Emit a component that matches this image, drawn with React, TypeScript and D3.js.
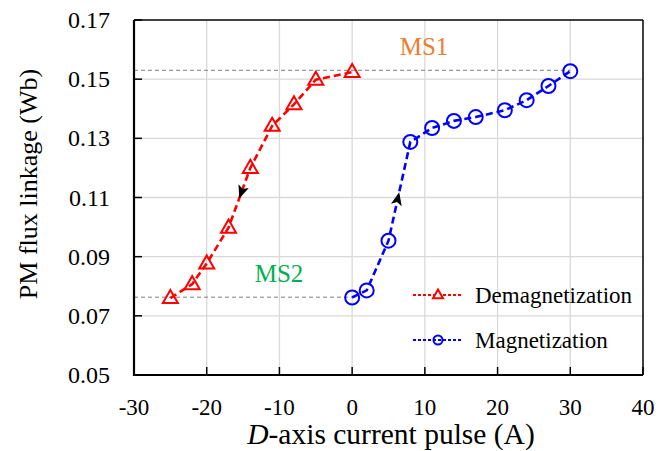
import React from "react";
import * as d3 from "d3";

const demagX = [-25, -22, -20, -17, -14, -11, -8, -5, 0];
const demagY = [0.076, 0.0807, 0.0877, 0.0998, 0.120, 0.1342, 0.1415, 0.1498, 0.1524];
const magX = [0, 2, 5, 8, 11, 14, 17, 21, 24, 27, 30];
const magY = [0.0762, 0.0786, 0.0954, 0.1288, 0.1335, 0.1359, 0.1372, 0.1395, 0.1429, 0.1477, 0.1527];
const xTicks = [-30, -20, -10, 0, 10, 20, 30, 40];
const yTicks = [0.05, 0.07, 0.09, 0.11, 0.13, 0.15, 0.17];
const ms1Level = 0.153;
const ms2Level = 0.0763;
const seriesNames = ["Demagnetization", "Magnetization"];

const W = 671, H = 451;
const L = 134, R = 643, T = 20, B = 375;
const FONT = "Liberation Serif, Tinos, Times New Roman, DejaVu Serif, serif";

export default function App() {
  const x = d3.scaleLinear().domain([-30, 40]).range([L, R]);
  const y = d3.scaleLinear().domain([0.05, 0.17]).range([B, T]);
  const line = d3.line<[number, number]>().x(d => x(d[0])).y(d => y(d[1]));
  const demag: [number, number][] = demagX.map((v, i) => [v, demagY[i]]);
  const mag: [number, number][] = magX.map((v, i) => [v, magY[i]]);

  const tri = (cx: number, cy: number, s: number) => {
    const h = s * 0.87;
    return `M${cx},${cy - h * 0.62} L${cx + s / 2},${cy + h * 0.38} L${cx - s / 2},${cy + h * 0.38} Z`;
  };

  const arrowAt = (p0: [number, number], p1: [number, number], t: number) => {
    const ax = x(p0[0]) + (x(p1[0]) - x(p0[0])) * t;
    const ay = y(p0[1]) + (y(p1[1]) - y(p0[1])) * t;
    const ang = Math.atan2(y(p1[1]) - y(p0[1]), x(p1[0]) - x(p0[0])) * 180 / Math.PI;
    return { ax, ay, ang };
  };
  const a1 = arrowAt(demag[4], demag[3], 0.4);
  const a2 = arrowAt(mag[2], mag[3], 0.42);

  return (
    <svg width={W} height={H} style={{ position: "absolute", left: 0, top: 0, background: "#fff" }}>
      {xTicks.slice(1, -1).map(t => (
        <line key={"gx" + t} x1={x(t)} x2={x(t)} y1={T} y2={B} stroke="#d9d9d9" strokeWidth={1.3} />
      ))}
      {yTicks.slice(1, -1).map(t => (
        <line key={"gy" + t} x1={L} x2={R} y1={y(t)} y2={y(t)} stroke="#d9d9d9" strokeWidth={1.3} />
      ))}
      <line x1={L} x2={x(30)} y1={y(ms1Level)} y2={y(ms1Level)} stroke="#7f7f7f" strokeWidth={1} strokeDasharray="4,3" />
      <line x1={L} x2={x(0)} y1={y(ms2Level)} y2={y(ms2Level)} stroke="#7f7f7f" strokeWidth={1} strokeDasharray="4,3" />
      <line x1={L} x2={R} y1={T} y2={T} stroke="#000" strokeWidth={1.5} />
      <line x1={R} x2={R} y1={T} y2={B} stroke="#000" strokeWidth={1.5} />
      <line x1={L} x2={L} y1={T} y2={B + 1} stroke="#000" strokeWidth={2.2} />
      <line x1={L - 1} x2={R} y1={B} y2={B} stroke="#000" strokeWidth={2.2} />
      {xTicks.map(t => (
        <g key={"xt" + t}>
          <line x1={x(t)} x2={x(t)} y1={B} y2={B - 8} stroke="#000" strokeWidth={1.5} />
          <text x={x(t)} y={415} textAnchor="middle" fontFamily={FONT} fontSize={23} fill="#000">{t}</text>
        </g>
      ))}
      {yTicks.map(t => (
        <g key={"yt" + t}>
          <line x1={L} x2={L + 8} y1={y(t)} y2={y(t)} stroke="#000" strokeWidth={1.5} />
          <text x={110} y={y(t) + 8} textAnchor="end" fontFamily={FONT} fontSize={24} fill="#000">{t.toFixed(2)}</text>
        </g>
      ))}
      <text x={391} y={444} textAnchor="middle" fontFamily={FONT} fontSize={29.5} fill="#000">
        <tspan fontStyle="italic">D</tspan>-axis current pulse (A)
      </text>
      <text transform={`translate(37,184) rotate(-90)`} textAnchor="middle" fontFamily={FONT} fontSize={26} fill="#000">
        PM flux linkage (Wb)
      </text>
      <path d={line(demag) || ""} fill="none" stroke="#ff0000" strokeWidth={2.6} strokeDasharray="7,4" />
      <path d={line(mag) || ""} fill="none" stroke="#0000ff" strokeWidth={2.6} strokeDasharray="7,4" />
      {demag.map((d, i) => (
        <path key={"dm" + i} d={tri(x(d[0]), y(d[1]), 15)} fill="none" stroke="#ff0000" strokeWidth={2} />
      ))}
      {mag.map((d, i) => (
        <circle key={"mg" + i} cx={x(d[0])} cy={y(d[1])} r={7} fill="none" stroke="#0000ff" strokeWidth={2} />
      ))}
      <path d="M7,0 L-6,-5.5 L-3,0 L-6,5.5 Z" fill="#000" transform={`translate(${a1.ax},${a1.ay}) rotate(${a1.ang})`} />
      <path d="M7,0 L-6,-5.5 L-3,0 L-6,5.5 Z" fill="#000" transform={`translate(${a2.ax},${a2.ay}) rotate(${a2.ang})`} />
      <text x={424} y={55} textAnchor="middle" fontFamily={FONT} fontSize={25} fill="#ED7D31">MS1</text>
      <text x={279} y={282} textAnchor="middle" fontFamily={FONT} fontSize={25} fill="#00B050">MS2</text>
      <g>
        <line x1={413} x2={463} y1={295} y2={295} stroke="#ff0000" strokeWidth={1.8} strokeDasharray="3,2" />
        <path d={tri(438, 295, 10)} fill="#fff" stroke="#ff0000" strokeWidth={2} />
        <text x={475} y={303} fontFamily={FONT} fontSize={23} fill="#000">{seriesNames[0]}</text>
        <line x1={413} x2={463} y1={340} y2={340} stroke="#0000ff" strokeWidth={1.8} strokeDasharray="3,2" />
        <circle cx={438} cy={340} r={4.5} fill="none" stroke="#0000ff" strokeWidth={2} />
        <text x={475} y={348} fontFamily={FONT} fontSize={23} fill="#000">{seriesNames[1]}</text>
      </g>
    </svg>
  );
}
